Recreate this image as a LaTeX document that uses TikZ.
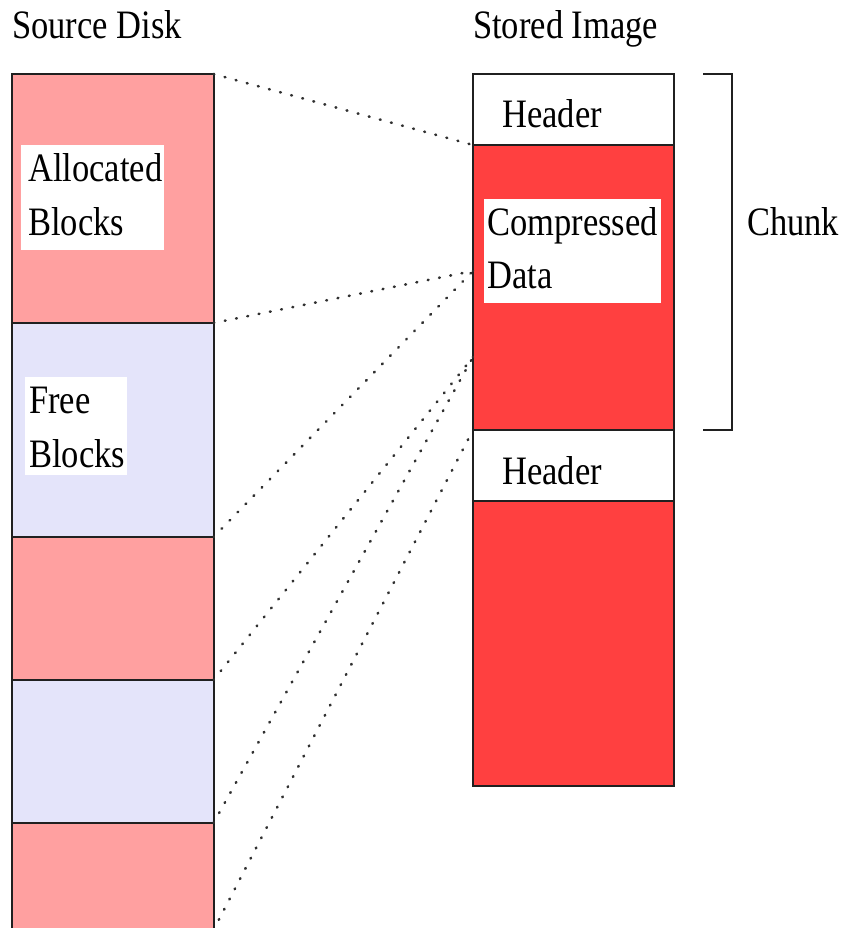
\documentclass[tikz,border=0pt]{standalone}
\usepackage{fontspec}
\setmainfont{Liberation Serif}
\usepackage{graphicx}
\usetikzlibrary{calc}
\definecolor{allocc}{HTML}{FFA0A0}
\definecolor{freec}{HTML}{E4E4FA}
\definecolor{datac}{HTML}{FF4040}
\definecolor{dotc}{HTML}{303030}
\definecolor{edgec}{HTML}{202020}
\newcommand{\stretchtxt}[1]{\scalebox{1}[1.17]{#1}}
\begin{document}
\begin{tikzpicture}[x=1pt,y=-1pt,
  blk/.style={draw=edgec, line width=2pt, anchor=north west, inner sep=0pt, outer sep=0pt, minimum width=202pt},
  allocblk/.style={blk, fill=allocc},
  freeblk/.style={blk, fill=freec},
  hdrblk/.style={blk, fill=white, minimum width=201pt},
  datablk/.style={blk, fill=datac, minimum width=201pt},
  lbl/.style={fill=white, anchor=north west, inner sep=0pt, outer sep=0pt},
  txt/.style={anchor=base west, inner sep=0pt, font=\fontsize{34.5}{40}\selectfont},
  link/.style={draw=dotc, line width=2.6pt, line cap=round, dash pattern=on 0.8pt off 10.7pt},
  bracketline/.style={draw=edgec, line width=1.6pt}
]
\useasboundingbox (0,0) rectangle (842,928);
\fill[white] (0,0) rectangle (842,928);
\clip (0,0) rectangle (842,928);

% titles
\node[txt] (tsrc) at (12,39) {\stretchtxt{Source Disk}};
\node[txt] (tsto) at (473,39) {\stretchtxt{Stored Image}};

% source disk column
\node[allocblk, minimum height=249pt] (a1) at (11.5,74) {};
\node[freeblk, minimum height=214pt] (f1) at (a1.south west) {};
\node[allocblk, minimum height=143pt] (a2) at (f1.south west) {};
\node[freeblk, minimum height=143pt] (f2) at (a2.south west) {};
\node[allocblk, minimum height=130pt] (a3) at (f2.south west) {};

% stored image column
\node[hdrblk, minimum height=71pt] (h1) at (473,74) {};
\node[datablk, minimum height=285pt] (d1) at (h1.south west) {};
\node[hdrblk, minimum height=71pt] (h2) at (d1.south west) {};
\node[datablk, minimum height=285pt] (d2) at (h2.south west) {};

% white label boxes
\node[lbl, minimum width=143pt, minimum height=105pt] (lb1) at (21,145) {};
\node[lbl, minimum width=102pt, minimum height=98pt] (lb2) at (25,377) {};
\node[lbl, minimum width=177pt, minimum height=104pt] (lb3) at (484,199) {};

% texts
\node[txt] (tal1) at (28,182) {\stretchtxt{Allocated}};
\node[txt] (tal2) at (28,235) {\stretchtxt{Blocks}};
\node[txt] (tfr1) at (29,413) {\stretchtxt{Free}};
\node[txt] (tfr2) at (29,467) {\stretchtxt{Blocks}};
\node[txt] (th1) at (502,128) {\stretchtxt{Header}};
\node[txt] (tcd1) at (487,235) {\stretchtxt{Compressed}};
\node[txt] (tcd2) at (487,288) {\stretchtxt{Data}};
\node[txt] (th2) at (502,484) {\stretchtxt{Header}};
\node[txt] (tch) at (747,235) {\stretchtxt{Chunk}};

% connection points
\coordinate (p1) at ($(d1.north west)!0.442!(d1.south west)$);
\coordinate (p2) at ($(d1.north west)!0.744!(d1.south west)$);
\coordinate (q) at ($(a3.north east)+(0,107)$);

% dotted connectors
\draw[link] (a1.north east) -- (h1.south west);
\draw[link] (a1.south east) -- (p1);
\draw[link] (f1.south east) -- (p1);
\draw[link] (a2.south east) -- (p2);
\draw[link] (f2.south east) -- (p2);
\draw[link] (q) -- (h2.north west);

% chunk bracket
\coordinate (b1) at ($(h1.north east)+(29,0)$);
\coordinate (b2) at ($(d1.south east)+(29,0)$);
\draw[bracketline] (b1) -- ++(29,0) |- (b2);
\end{tikzpicture}
\end{document}
